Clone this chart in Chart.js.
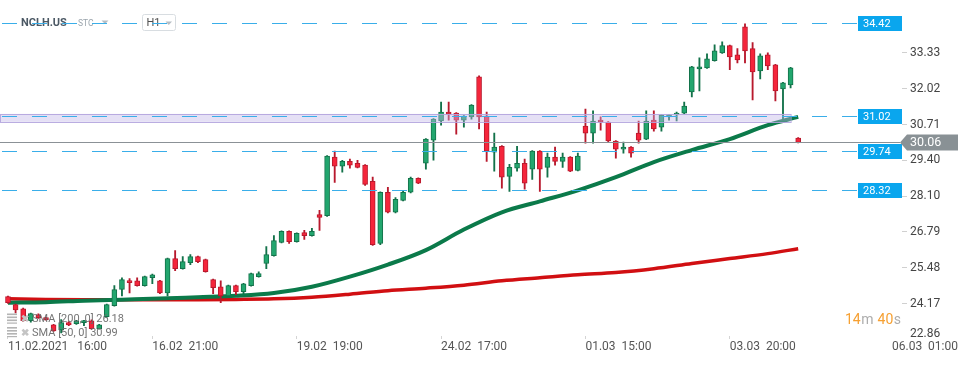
<!DOCTYPE html>
<html>
<head>
<meta charset="utf-8">
<script src="https://cdn.jsdelivr.net/npm/chart.js@4.4.1/dist/chart.umd.min.js"></script>
<style>
html,body{margin:0;padding:0;background:#ffffff;}
canvas{display:block;}
</style>
</head>
<body>
<canvas id="c" width="970" height="365"></canvas>
<script>
// ---------- DATA ----------
const sessions = [
  ['11.02', [16,17,18,19,20,21]],
  ['12.02', [15,16,17,18,19,20,21]],
  ['16.02', [15,16,17,18,19,20,21]],
  ['17.02', [15,16,17,18,19,20,21]],
  ['18.02', [15,16,17,18,19,20,21]],
  ['19.02', [15,16,17,18,19,20,21]],
  ['22.02', [15,16,17,18,19,20,21]],
  ['23.02', [15,16,17,18,19,20,21]],
  ['24.02', [15,16,17,18,19,20,21]],
  ['25.02', [15,16,17,18,19,20,21]],
  ['26.02', [15,16,17,18,19,20,21]],
  ['01.03', [15,16,17,18,19,20,21]],
  ['02.03', [15,16,17,18,19,20,21]],
  ['03.03', [15,16,17,18,19,20,21]],
  ['04.03', [15,16,17,18,19,20,21]],
  ['05.03', [15]]
];
const times = [];
sessions.forEach(([d, hrs]) => hrs.forEach(h => times.push(d + ' ' + h + ':00')));

const open = [24.43,24.14,23.99,23.55,23.77,23.66,23.40,23.22,23.48,23.44,
  23.48,23.55,23.26,23.70,24.10,24.69,25.01,25.01,24.83,25.12,
  25.01,24.57,25.82,25.45,25.67,25.89,25.78,25.05,24.79,24.46,
  24.83,24.61,24.83,25.16,25.64,25.93,26.41,26.81,26.44,26.77,
  26.66,27.43,27.39,29.52,29.19,29.37,29.30,29.23,28.64,26.37,
  28.24,27.51,27.94,28.24,28.75,29.30,30.14,30.84,31.17,31.13,
  30.87,30.99,32.45,31.02,29.70,29.92,28.82,29.12,29.30,29.08,
  29.74,29.15,29.52,29.37,29.52,29.04,30.66,30.40,30.84,30.80,
  30.11,29.81,29.89,30.40,30.18,30.87,30.62,30.99,31.06,31.13,
  31.90,32.74,32.78,33.04,33.33,33.59,33.26,34.28,33.48,32.67,
  33.26,32.89,32.01,32.16,30.22];
const high = [24.45,24.16,24.01,23.83,23.80,23.68,23.42,23.59,23.52,23.57,
  23.57,23.58,23.42,24.16,24.83,25.12,25.09,25.12,25.18,25.25,
  25.03,25.84,26.11,25.89,25.97,25.91,25.80,25.07,25.01,24.85,
  24.85,24.92,25.29,25.34,26.26,26.66,26.83,26.83,26.76,26.85,
  26.92,27.58,29.58,29.74,29.41,29.45,29.41,29.25,28.79,28.26,
  28.42,28.05,28.27,28.79,28.77,30.20,30.93,31.53,31.53,31.15,
  31.04,31.44,32.49,31.17,30.40,29.94,29.26,29.92,29.45,29.76,
  29.76,29.67,29.89,29.67,29.54,29.67,31.28,31.21,30.99,30.82,
  30.13,30.07,29.91,30.84,31.21,31.21,31.08,31.08,31.17,31.53,
  32.84,33.15,33.29,33.62,33.73,33.61,33.48,34.39,33.70,33.29,
  33.33,32.91,32.25,32.80,30.24];
const low = [24.18,23.84,23.53,23.50,23.64,23.57,23.16,23.11,23.37,23.42,
  23.37,23.24,23.24,23.68,24.08,24.46,24.57,24.81,24.81,24.90,
  24.54,24.46,25.38,25.43,25.60,25.67,25.32,24.54,24.21,24.44,
  24.50,24.54,24.81,25.14,25.45,25.91,26.39,26.37,26.42,26.52,
  26.64,26.85,27.36,28.60,28.97,29.12,29.13,28.49,26.30,26.33,
  27.49,27.49,27.92,28.22,28.55,29.08,29.41,30.69,30.87,30.36,
  30.62,30.91,30.55,29.37,29.01,28.39,28.27,29.01,28.35,28.71,
  28.27,28.79,29.23,29.15,28.99,29.02,30.03,30.03,30.51,30.09,
  29.48,29.67,29.52,30.03,30.16,30.47,30.47,30.87,30.84,31.11,
  31.72,31.94,32.76,33.02,33.31,32.71,32.96,32.96,31.61,32.38,
  32.71,31.57,30.87,32.05,30.04];
const close = [24.21,23.95,23.55,23.81,23.66,23.59,23.18,23.48,23.40,23.55,
  23.55,23.26,23.40,24.14,24.69,25.05,24.94,24.83,25.16,25.23,
  24.57,25.82,25.45,25.71,25.89,25.71,25.34,24.76,24.46,24.83,
  24.61,24.90,25.27,25.27,25.97,26.48,26.81,26.44,26.74,26.66,
  26.81,27.32,29.56,29.19,29.37,29.23,29.15,28.53,26.33,28.24,
  27.51,27.98,28.24,28.75,28.57,30.18,30.91,31.17,31.09,30.87,
  31.02,31.42,30.99,29.74,29.89,28.79,29.15,29.30,28.57,29.74,
  29.08,29.52,29.37,29.52,29.01,29.56,30.40,30.84,30.80,30.11,
  29.81,29.89,29.67,30.14,30.84,30.55,31.06,31.06,31.09,31.39,
  32.82,32.82,33.11,33.40,33.59,33.18,33.07,33.40,32.63,33.22,
  32.85,31.94,32.23,32.78,30.06];

// moving averages read at every 5th candle
const smaIdx   = [0,5,10,15,20,25,30,35,40,45,50,55,60,65,70,75,80,85,90,95,100,104];
const sma50    = [24.21,24.23,24.28,24.32,24.36,24.41,24.46,24.56,24.79,25.16,25.60,26.13,26.88,27.51,27.91,28.31,28.79,29.34,29.78,30.18,30.69,30.99];
const sma200   = [24.35,24.33,24.32,24.32,24.32,24.32,24.33,24.35,24.41,24.52,24.65,24.74,24.85,25.01,25.12,25.23,25.31,25.45,25.64,25.82,26.00,26.18];

const levels    = [34.42, 31.02, 29.74, 28.32];
const zone      = [30.81, 31.10];
const zoneEnd   = 103;
const lastPrice = 30.06;

const yTicks     = [22.86, 24.17, 25.48, 26.79, 28.10, 29.40, 30.71, 32.02, 33.33];
const xTickIndex = [0, 19, 38, 57, 76, 95];
const xTickText  = ['11.02.2021   16:00', '16.02  21:00', '19.02  19:00', '24.02  17:00', '01.03  15:00', '03.03  20:00'];

const symbol = 'NCLH.US', symType = 'STC', timeframe = 'H1';
const legendRows = ['SMA [200, 0] 26.18', 'SMA [50, 0] 30.99'];
const countdown = [['14','m'],['40','s']];
const edgeTime = '06.03  01:00';

// ---------- STYLE ----------
const upFill = '#22a66e', upLine = '#13724a', dnFill = '#f5253b', dnLine = '#b8192d';
const FONT = 'Roboto';
Chart.defaults.font.family = FONT;

const isUp = close.map((c, i) => c >= open[i]);
const bodyData = times.map((t, i) => ({ x: i, y: [open[i], close[i]] }));
const wickData = times.map((t, i) => ({ x: i, y: [low[i], high[i]] }));

const overlay = {
  id: 'overlay',
  afterDatasetsDraw(chart) {
    const { ctx, scales: { x, y } } = chart;
    ctx.save();
    // zone band
    const bt = y.getPixelForValue(zone[1]), bb = y.getPixelForValue(zone[0]);
    const bx = x.getPixelForValue(zoneEnd);
    ctx.fillStyle = 'rgba(192,180,230,0.42)';
    ctx.fillRect(0, bt, bx, bb - bt);
    ctx.strokeStyle = 'rgba(178,164,222,0.9)';
    ctx.lineWidth = 1;
    ctx.strokeRect(0.5, Math.round(bt) + 0.5, bx, Math.round(bb - bt));

    // header
    ctx.textBaseline = 'middle';
    ctx.textAlign = 'left';
    ctx.font = 'bold 11px ' + FONT;
    ctx.fillStyle = '#4b5864';
    ctx.fillText(symbol, 21, 23.5);
    ctx.font = '8.5px ' + FONT;
    ctx.fillStyle = '#9ba5ad';
    ctx.fillText(symType, 78, 24);
    ctx.fillStyle = '#b6bdc3';
    ctx.beginPath(); ctx.moveTo(101.5, 20.5); ctx.lineTo(108.5, 20.5); ctx.lineTo(105, 24); ctx.closePath(); ctx.fill();
    ctx.strokeStyle = '#d8dde1';
    ctx.beginPath();
    if (ctx.roundRect) ctx.roundRect(142.5, 14.5, 33, 16, 2); else ctx.rect(142.5, 14.5, 33, 16);
    ctx.stroke();
    ctx.font = '11px ' + FONT;
    ctx.fillStyle = '#505050';
    ctx.fillText(timeframe, 146.5, 23);
    ctx.fillStyle = '#b6bdc3';
    ctx.beginPath(); ctx.moveTo(165.5, 21.5); ctx.lineTo(172, 21.5); ctx.lineTo(168.75, 25); ctx.closePath(); ctx.fill();

    // level lines
    levels.forEach(v => {
      const py = Math.round(y.getPixelForValue(v)) + 0.5;
      ctx.setLineDash([15, 15]);
      ctx.strokeStyle = '#3aaee9';
      ctx.lineWidth = 1;
      ctx.beginPath(); ctx.moveTo(2, py); ctx.lineTo(858, py); ctx.stroke();
      ctx.setLineDash([]);
      ctx.fillStyle = '#0aa6ee';
      ctx.fillRect(858, py - 7.5, 44, 15);
      ctx.fillStyle = '#ffffff';
      ctx.font = '11px ' + FONT;
      ctx.fillText(v.toFixed(2), 863, py + 0.5);
    });

    // current price line
    const pp = Math.round(y.getPixelForValue(lastPrice)) + 0.5;
    ctx.strokeStyle = '#8b9196';
    ctx.beginPath(); ctx.moveTo(0, pp); ctx.lineTo(900, pp); ctx.stroke();
    ctx.fillStyle = '#899195';
    ctx.beginPath();
    ctx.moveTo(900, pp); ctx.lineTo(907, pp - 8); ctx.lineTo(958, pp - 8); ctx.lineTo(958, pp + 8); ctx.lineTo(907, pp + 8);
    ctx.closePath(); ctx.fill();
    ctx.fillStyle = '#ffffff';
    ctx.font = '12.5px ' + FONT;
    ctx.fillText(lastPrice.toFixed(2), 910, pp + 0.5);
    ctx.restore();
  },
  afterDraw(chart) {
    const { ctx } = chart;
    ctx.save();
    ctx.textBaseline = 'middle';
    ctx.textAlign = 'left';
    // legend rows
    const rowsY = [319.5, 333];
    legendRows.forEach((t, k) => {
      const ry = rowsY[k];
      ctx.fillStyle = '#b4b4b4';
      [-6, -3, 0].forEach(d => ctx.fillRect(7, ry + d, 10, 1.6));
      ctx.fillRect(7, ry + 3, 10, 1.2);
      ctx.font = 'bold 10px ' + FONT;
      ctx.fillStyle = '#c4c4c4';
      ctx.fillText('\u2716', 21, ry);
      ctx.font = '11px ' + FONT;
      ctx.fillStyle = 'rgba(105,105,105,0.92)';
      ctx.fillText(t, 32, ry);
    });
    // countdown
    let cx = 845;
    ctx.font = '14px ' + FONT;
    countdown.forEach(([n, u], k) => {
      ctx.fillStyle = '#f6a032';
      ctx.fillText(n, cx, 320);
      cx += ctx.measureText(n).width + 0.5;
      ctx.fillStyle = '#adadad';
      ctx.fillText(u, cx, 320);
      cx += ctx.measureText(u).width + 4;
    });
    // right edge time
    ctx.textAlign = 'right';
    ctx.font = '12px ' + FONT;
    ctx.fillStyle = '#555555';
    ctx.fillText(edgeTime, 958, 347);
    ctx.restore();
  }
};

const config = {
  type: 'bar',
  data: {
    datasets: [
      { label: 'body', data: bodyData,
        backgroundColor: isUp.map(u => u ? upFill : dnFill),
        borderColor: isUp.map(u => u ? upLine : dnLine),
        borderWidth: 1, borderSkipped: false, barThickness: 5, minBarLength: 2,
        grouped: false, order: 0 },
      { label: 'wick', data: wickData,
        backgroundColor: isUp.map(u => u ? upLine : dnLine),
        borderWidth: 0, barThickness: 1.2, grouped: false, order: 1 },
      { type: 'line', label: 'SMA [50, 0]', data: smaIdx.map((k, j) => ({ x: k, y: sma50[j] })),
        borderColor: '#0b7a4a', borderWidth: 4, pointRadius: 0, cubicInterpolationMode: 'monotone', order: 2 },
      { type: 'line', label: 'SMA [200, 0]', data: smaIdx.map((k, j) => ({ x: k, y: sma200[j] })),
        borderColor: '#d10f12', borderWidth: 3.5, pointRadius: 0, cubicInterpolationMode: 'monotone', order: 3 }
    ]
  },
  options: {
    responsive: false,
    animation: false,
    events: [],
    layout: { padding: 0 },
    plugins: { legend: { display: false }, tooltip: { enabled: false } },
    scales: {
      x: {
        type: 'linear', offset: false, bounds: 'data',
        min: -0.79, max: 117.66,
        afterBuildTicks: s => { s.ticks = xTickIndex.map(v => ({ value: v })); },
        afterFit: s => { s.height = 29; },
        grid: { drawOnChartArea: false, drawTicks: true, tickLength: 3, color: '#d4d4d4', offset: false },
        border: { display: false },
        ticks: { align: 'start', padding: 1, autoSkip: false, maxRotation: 0, minRotation: 0,
          color: '#555555', font: { family: FONT, size: 12 },
          callback: (v, i) => xTickText[i] }
      },
      y: {
        type: 'linear', position: 'right', bounds: 'data',
        min: 22.75, max: 35.2,
        afterBuildTicks: s => { s.ticks = yTicks.map(v => ({ value: v })); },
        afterFit: s => { s.width = 68; },
        grid: { drawOnChartArea: false, drawTicks: true, tickLength: 5,
          color: c => (c.tick && c.tick.value === yTicks[0]) ? 'rgba(0,0,0,0)' : '#d0d0d0' },
        border: { display: false },
        ticks: { padding: 3, color: '#444444',
          font: c => ({ family: FONT, size: 12, lineHeight: (c.tick && c.tick.value === yTicks[0]) ? 0.95 : 1.2 }),
          callback: v => v === yTicks[0] ? [v.toFixed(2), ''] : v.toFixed(2) }
      }
    }
  },
  plugins: [overlay]
};

const chart = new Chart(document.getElementById('c'), config);
// calibrate axis ranges to the reference layout
const a = chart.chartArea;
const valAt = py => 33.33 - (py - 52.8) / 27.4;
const idxAt = px => (px - 6) / 7.615;
chart.options.scales.y.min = valAt(a.bottom);
chart.options.scales.y.max = valAt(a.top);
chart.options.scales.x.min = idxAt(a.left);
chart.options.scales.x.max = idxAt(a.right);
chart.update('none');
</script>
</body>
</html>
